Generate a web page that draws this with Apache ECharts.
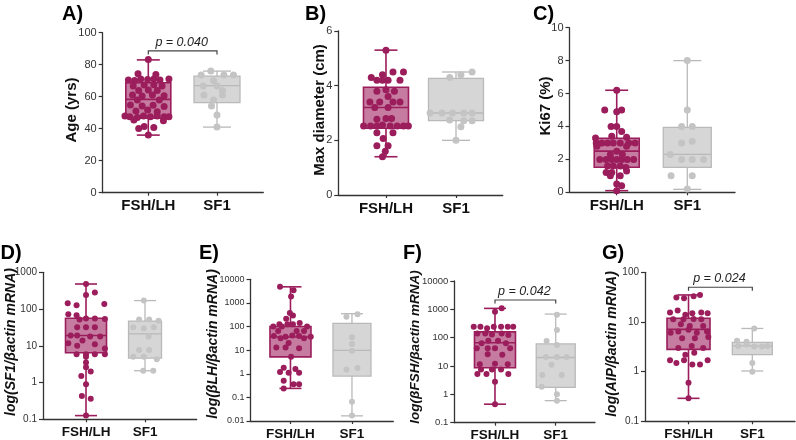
<!DOCTYPE html>
<html><head><meta charset="utf-8">
<script src="https://cdn.jsdelivr.net/npm/echarts@6/dist/echarts.min.js"></script>
<style>html,body{margin:0;padding:0;background:#fff}#c{width:796px;height:440px}</style>
</head><body><div id="c"></div>
<script>
// ---------- DATA ----------
const groups = ['FSH/LH', 'SF1'];
// box stats: [min, Q1, median, Q3, max]
const ageBoxFsh = [36, 46.5, 58.3, 68.7, 83];
const ageBoxSf1 = [41, 56.3, 66.9, 72.9, 76];
const diamBoxFsh = [1.4, 2.44, 3.2, 3.94, 5.3];
const diamBoxSf1 = [2.0, 2.72, 3.0, 4.27, 4.5];
const ki67BoxFsh = [0.1, 1.52, 2.5, 3.28, 6.2];
const ki67BoxSf1 = [0.18, 1.52, 2.3, 3.95, 8.0];
const sf1BoxFsh = [0.126, 6.5, 19, 56, 480];
const sf1BoxSf1 = [2.1, 4.6, 21, 47, 170];
const lhBoxFsh = [0.24, 5.2, 36, 100, 4800];
const lhBoxSf1 = [0.0165, 0.8, 9.8, 135, 350];
const fshBoxFsh = [0.45, 8.7, 66, 160, 1080];
const fshBoxSf1 = [0.6, 1.77, 20, 60, 680];
const aipBoxFsh = [0.29, 2.8, 7.1, 11.9, 35];
const aipBoxSf1 = [1.03, 2.2, 3.3, 3.9, 7.4];

// individual points: [horizontal jitter (category units), value]
const agePtsFsh = [[0,83.3],[-0.15,74.4],[0.11,73.8],[-0.29,70.4],[-0.2,70.2],[-0.11,71],[-0.01,70.8],[0.08,71],[0.17,70.4],[0.3,71],[-0.22,66.7],[-0.06,67.3],[0.08,67.5],[0.2,66.7],[-0.14,63.8],[0,64.2],[0.13,63.8],[-0.23,61],[-0.09,60.4],[0.06,61],[0.23,60.6],[-0.16,57.9],[0.16,57.9],[-0.26,54.8],[-0.09,54.2],[0.07,54.6],[0.23,53.8],[-0.18,51],[-0.01,51.7],[0.13,50.6],[-0.34,47.9],[-0.27,47.5],[-0.16,47],[-0.07,47.9],[0.03,47.5],[0.13,47.9],[0.23,47.5],[0.3,47.5],[-0.21,45.4],[0.22,45],[-0.06,41.3],[0.08,40.8],[-0.14,40.2],[0,36]];
const agePtsSf1 = [[-0.23,73.5],[-0.09,76],[0.1,73.5],[0.24,73.5],[-0.05,70],[-0.2,66.7],[0,66.7],[0.08,63.8],[-0.19,61],[0.08,61],[-0.05,57.9],[-0.08,54.2],[0,48.5],[0,41]];
const diamPtsFsh = [[0,5.3],[0.1,4.5],[0.25,4.5],[-0.05,4.4],[-0.21,4.3],[-0.13,4.2],[-0.05,4.2],[0.03,4.2],[0.2,4.2],[-0.13,3.8],[0,3.85],[0.12,3.8],[0.03,3.6],[-0.23,3.4],[-0.09,3.4],[0.1,3.4],[0.2,3.4],[-0.16,3.2],[0.03,3.2],[0,2.8],[0.08,2.8],[-0.13,2.77],[-0.32,2.52],[-0.22,2.52],[-0.13,2.52],[-0.05,2.56],[0.06,2.52],[0.16,2.52],[0.25,2.52],[0.32,2.52],[-0.13,2.28],[0.1,2.28],[-0.04,2.07],[-0.13,1.8],[0.03,1.8],[-0.01,1.6],[-0.05,1.4]];
const diamPtsSf1 = [[-0.09,4.3],[0.07,4.4],[0.23,4.5],[-0.37,3.0],[-0.2,3.0],[-0.05,3.0],[0.11,3.0],[0.23,3.0],[-0.09,2.74],[0.11,2.72],[0.23,2.72],[0.07,2.5],[0,2.0]];
const ki67PtsFsh = [[0,6.2],[-0.17,5.0],[0,4.9],[0.07,5.0],[-0.08,4.0],[0,4.0],[0.07,3.7],[-0.07,3.4],[0.14,3.35],[-0.3,3.3],[-0.29,3.0],[-0.21,3.0],[-0.13,3.0],[-0.05,3.0],[0.05,3.0],[0.17,3.0],[0.26,3.0],[-0.28,2.8],[0.14,2.8],[0,2.5],[-0.09,2.3],[0.08,2.3],[-0.24,2.0],[-0.15,2.0],[-0.07,2.0],[0,2.0],[0.07,2.0],[0.15,2.0],[0.24,2.0],[-0.13,1.6],[-0.05,1.6],[0.05,1.6],[0.13,1.5],[0.14,1.3],[-0.15,1.2],[-0.07,1.2],[-0.09,1.0],[0.05,1.0],[0,0.5],[0.07,0.4],[0,0.1]];
const ki67PtsSf1 = [[0,8.0],[0,5.0],[-0.08,4.0],[0.07,4.0],[-0.08,3.0],[0.07,3.1],[-0.24,2.3],[-0.08,2.0],[0.07,2.0],[0.23,2.0],[-0.23,1.0],[0.07,1.0],[0,0.2]];
const sf1PtsFsh = [[0,480],[0,242],[0.15,280],[-0.31,143],[-0.16,126],[0.31,137],[-0.3,72],[-0.16,68],[-0.11,52],[0,55],[0.15,55],[0.32,54],[-0.15,32],[0,32],[0.15,32],[-0.26,19],[-0.15,19],[0.07,18],[0.24,18],[-0.06,14],[-0.3,11.7],[-0.15,10],[0.15,11],[0.32,8.5],[-0.16,5.9],[0,5.9],[0.15,5.9],[0.32,5.9],[0,5.0],[0,3.5],[0,2.6],[0.08,2.0],[-0.08,1.5],[0,0.9],[-0.07,0.43],[0.08,0.36],[0,0.126]];
const sf1PtsSf1 = [[-0.02,170],[-0.1,52],[0.07,52],[0.23,48],[-0.2,32],[-0.02,30],[0.15,32],[0.06,18],[-0.1,7.7],[0.07,7.7],[-0.2,5],[-0.02,5],[0.2,4.3],[-0.03,2.1],[0.14,2.1]];
const lhPtsFsh = [[-0.17,4800],[0.05,3400],[0.01,1850],[-0.01,375],[0.04,290],[-0.07,215],[-0.18,125],[-0.05,125],[0.04,125],[0.15,140],[-0.28,100],[-0.14,100],[0.27,100],[-0.2,65],[0.1,65],[0.22,65],[-0.27,40],[-0.08,37],[0.03,42],[0.14,40],[0.33,37],[-0.16,32],[0.22,32],[-0.03,20],[-0.23,13],[-0.08,13],[0.14,12],[0.01,5.3],[-0.11,1.8],[0.08,1.6],[-0.03,1.1],[0.14,1.1],[-0.17,1.2],[-0.11,0.51],[0.05,0.36],[0.14,0.36],[-0.11,0.24]];
const lhPtsSf1 = [[0.09,330],[-0.09,260],[0,35],[0,18],[0,9.5],[-0.09,1.5],[0.09,1.75],[0,0.066],[0,0.017]];
const fshPtsFsh = [[0.11,1085],[0,830],[-0.35,245],[-0.24,245],[-0.13,215],[-0.02,245],[0.1,245],[0.21,245],[0.3,245],[-0.29,140],[-0.16,140],[-0.05,130],[0.11,140],[0.22,125],[-0.11,78],[0.05,78],[-0.22,63],[0.18,63],[-0.3,42],[-0.12,42],[0,42],[0.25,42],[-0.12,26],[0.12,25],[-0.25,11.5],[0,12],[0.21,11.5],[-0.23,7.6],[-0.05,7.6],[0.1,7.6],[-0.29,5.2],[-0.14,5.2],[0.22,5.2],[0,2.8],[0,0.45]];
const fshPtsSf1 = [[0.02,650],[0.02,186],[-0.15,76],[0.02,55],[-0.16,21],[0.02,21],[0.18,21],[-0.07,11],[-0.22,4.8],[0.1,4.8],[-0.23,1.86],[0.02,1.0],[0.02,0.6]];
const aipPtsFsh = [[-0.19,31],[-0.07,30],[0.08,33],[0.18,35],[-0.29,15.5],[-0.17,17],[-0.05,14],[0.06,15],[0.2,15.5],[0.3,15],[-0.24,11.3],[-0.08,11.3],[0.08,11.5],[0.2,11.3],[-0.12,9],[0.02,8.3],[0.23,8.3],[-0.28,6.1],[-0.16,6.4],[0,7],[0.13,6.1],[0.29,6.4],[-0.1,4.7],[0.1,4.7],[0.31,5],[0.05,3.3],[-0.16,3.0],[0.23,3.0],[-0.05,2.2],[0.09,2.4],[-0.29,1.7],[-0.19,1.5],[-0.07,1.7],[0.06,1.4],[0.18,1.4],[0.3,1.7],[0,0.6],[0,0.29]];
const aipPtsSf1 = [[0.03,7.4],[-0.24,4.2],[-0.09,4.0],[-0.22,3.3],[-0.09,3.5],[0.03,3.2],[0.15,3.2],[0.24,3.3],[0,1.5],[0,1.0]];

const pValues = ['p = 0.040', 'p = 0.042', 'p = 0.024'];

// ---------- LAYOUT / STYLE ----------
const FONT = '"Liberation Sans", Arial, Helvetica, sans-serif';
const MAG = '#9b1d5c', MAG_FILL = 'rgba(155,29,92,0.58)';
const GRY = '#c4c4c4', GRY_STROKE = '#b9b9b9', GRY_FILL = '#d6d6d6';
const AX = '#333';

const panels = [
  {title:'A)', tpos:[62,14], yName:'Age (yrs)', npos:[72,110], nItalic:false, nSize:15,
   grid:{left:102.7, top:32.7, width:160.6, height:160}, xr:[0.336,2.674],
   y:{type:'value', min:0, max:100, interval:20}, lab:11, cat:15, dot:7,
   box:[ageBoxFsh, ageBoxSf1], pts:[agePtsFsh, agePtsSf1], bw:[45,46], cap:[23,28],
   bracket:{y:88.6, text:pValues[0]}},
  {title:'B)', tpos:[305,14], yName:'Max diameter (cm)', npos:[320,110], nItalic:false, nSize:15,
   grid:{left:338.3, top:31, width:164.4, height:164}, xr:[0.319,2.667],
   y:{type:'value', min:0, max:6, interval:2}, lab:11, cat:15, dot:7,
   box:[diamBoxFsh, diamBoxSf1], pts:[diamPtsFsh, diamPtsSf1], bw:[45,55], cap:[23,28]},
  {title:'C)', tpos:[533,14], yName:'Ki67 (%)', npos:[546,106], nItalic:false, nSize:15,
   grid:{left:569.5, top:27.7, width:165.5, height:164.6}, xr:[0.331,2.676],
   y:{type:'value', min:0, max:10, interval:2}, lab:11, cat:15, dot:7,
   box:[ki67BoxFsh, ki67BoxSf1], pts:[ki67PtsFsh, ki67PtsSf1], bw:[45,48], cap:[23,28]},
  {title:'D)', tpos:[0.5,253.5], yName:'log(SF1/βactin mRNA)', npos:[11,342], nItalic:true, nSize:14,
   grid:{left:43, top:272.3, width:153.7, height:147}, xr:[0.271,2.876],
   y:{type:'log', min:0.1, max:1000, split:4}, lab:10, cat:13.5, dot:6,
   box:[sf1BoxFsh, sf1BoxSf1], pts:[sf1PtsFsh, sf1PtsSf1], bw:[41,33], cap:[22,22]},
  {title:'E)', tpos:[199,253.5], yName:'log(βLH/βactin mRNA)', npos:[213,344], nItalic:true, nSize:14,
   grid:{left:250.5, top:279.3, width:142.8, height:141.7}, xr:[0.35,2.672],
   y:{type:'log', min:0.01, max:10000, split:6}, lab:9, cat:13.5, dot:6,
   box:[lhBoxFsh, lhBoxSf1], pts:[lhPtsFsh, lhPtsSf1], bw:[41,38], cap:[22,22]},
  {title:'F)', tpos:[403,253.5], yName:'log(βFSH/βactin mRNA)', npos:[415,347], nItalic:true, nSize:13.5,
   grid:{left:454.3, top:281, width:140.7, height:141.7}, xr:[0.33,2.647],
   y:{type:'log', min:0.1, max:10000, split:5}, lab:9.5, cat:13.5, dot:6,
   box:[fshBoxFsh, fshBoxSf1], pts:[fshPtsFsh, fshPtsSf1], bw:[41,39], cap:[22,22],
   bracket:{y:2140, text:pValues[1]}},
  {title:'G)', tpos:[602,253.5], yName:'log(AIP/βactin mRNA)', npos:[612,344], nItalic:true, nSize:14,
   grid:{left:645, top:272.3, width:150, height:149}, xr:[0.318,2.669],
   y:{type:'log', min:0.1, max:100, split:3}, lab:10, cat:13.5, dot:6,
   box:[aipBoxFsh, aipBoxSf1], pts:[aipPtsFsh, aipPtsSf1], bw:[43,40], cap:[22,22],
   bracket:{y:50, text:pValues[2]}}
];

function boxRender(bw, cap, stroke, fill, lw) {
  return function (params, api) {
    const x = api.value(0);
    const pMin = api.coord([x, api.value(1)]);
    const pQ1 = api.coord([x, api.value(2)]);
    const pMed = api.coord([x, api.value(3)]);
    const pQ3 = api.coord([x, api.value(4)]);
    const pMax = api.coord([x, api.value(5)]);
    const cx = pMin[0], h = bw / 2, c = cap / 2;
    const ls = {stroke: stroke, lineWidth: lw, fill: null};
    return {type: 'group', children: [
      {type: 'rect', shape: {x: cx - h, y: pQ3[1], width: bw, height: pQ1[1] - pQ3[1]}, style: {fill: fill, stroke: stroke, lineWidth: lw}},
      {type: 'line', shape: {x1: cx - h, y1: pMed[1], x2: cx + h, y2: pMed[1]}, style: ls},
      {type: 'line', shape: {x1: cx, y1: pQ3[1], x2: cx, y2: pMax[1]}, style: ls},
      {type: 'line', shape: {x1: cx, y1: pQ1[1], x2: cx, y2: pMin[1]}, style: ls},
      {type: 'line', shape: {x1: cx - c, y1: pMax[1], x2: cx + c, y2: pMax[1]}, style: ls},
      {type: 'line', shape: {x1: cx - c, y1: pMin[1], x2: cx + c, y2: pMin[1]}, style: ls}
    ]};
  };
}
function bracketRender(text) {
  return function (params, api) {
    const y = api.value(2);
    const p1 = api.coord([api.value(0), y]);
    const p2 = api.coord([api.value(1), y]);
    const leg = 3.5;
    return {type: 'group', children: [
      {type: 'polyline', shape: {points: [[p1[0], p1[1] + leg], [p1[0], p1[1]], [p2[0], p2[1]], [p2[0], p2[1] + leg]]},
       style: {stroke: '#444', lineWidth: 1.2, fill: null}},
      {type: 'text', x: (p1[0] + p2[0]) / 2 - 1, y: p1[1] - 8.5,
       style: {text: text, font: 'italic 12.5px ' + FONT, fill: '#222', align: 'center', verticalAlign: 'middle', textAlign: 'center', textVerticalAlign: 'middle'}}
    ]};
  };
}
const fmtLog = v => String(+(+v).toPrecision(3));

const option = {animation: false, backgroundColor: '#fff', grid: [], xAxis: [], yAxis: [], series: [], graphic: []};

panels.forEach((p, i) => {
  option.grid.push(Object.assign({containLabel: false, outerBoundsMode: 'none'}, p.grid));
  option.xAxis.push({
    type: 'value', gridIndex: i, min: p.xr[0], max: p.xr[1],
    axisLine: {show: true, onZero: false, lineStyle: {color: AX, width: 1.3}},
    axisTick: {show: true, customValues: [1, 2], length: 3, lineStyle: {color: AX, width: 1.2}},
    axisLabel: {show: true, customValues: [1, 2], formatter: v => groups[Math.round(v) - 1] || '',
      margin: 6, fontFamily: FONT, fontWeight: 'bold', fontSize: p.cat, color: '#111'},
    splitLine: {show: false}
  });
  const ya = {
    type: p.y.type, gridIndex: i, min: p.y.min, max: p.y.max,
    axisLine: {show: true, onZero: false, lineStyle: {color: AX, width: 1.3}},
    axisTick: {show: true, length: 4, lineStyle: {color: AX, width: 1.2}},
    minorTick: {show: false},
    axisLabel: {margin: 6, fontFamily: FONT, fontSize: p.lab, color: '#333'},
    splitLine: {show: false}
  };
  if (p.y.type === 'value') { ya.interval = p.y.interval; }
  else { ya.logBase = 10; ya.splitNumber = p.y.split; ya.axisLabel.formatter = fmtLog; }
  option.yAxis.push(ya);

  const cols = [[MAG, MAG_FILL, 1.6], [GRY_STROKE, GRY_FILL, 1.3]];
  [0, 1].forEach(g => {
    option.series.push({
      type: 'custom', xAxisIndex: i, yAxisIndex: i, z: 2, clip: false, silent: true,
      renderItem: boxRender(p.bw[g], p.cap[g], cols[g][0], cols[g][1], cols[g][2]),
      encode: {x: 0, y: [1, 2, 3, 4, 5]},
      data: [[g + 1].concat(p.box[g])]
    });
  });
  [0, 1].forEach(g => {
    option.series.push({
      type: 'scatter', xAxisIndex: i, yAxisIndex: i, z: 3, silent: true,
      symbolSize: p.dot, itemStyle: {color: g === 0 ? MAG : GRY, opacity: 1},
      data: p.pts[g].map(d => [g + 1 + d[0], d[1]])
    });
  });
  if (p.bracket) {
    option.series.push({
      type: 'custom', xAxisIndex: i, yAxisIndex: i, z: 4, clip: false, silent: true,
      renderItem: bracketRender(p.bracket.text),
      encode: {x: [0, 1], y: 2},
      data: [[1, 2, p.bracket.y]]
    });
  }
  option.graphic.push({type: 'text', x: p.tpos[0], y: p.tpos[1],
    style: {text: p.title, font: 'bold 20px ' + FONT, fill: '#000', align: 'left', verticalAlign: 'middle', textAlign: 'left', textVerticalAlign: 'middle'}});
  option.graphic.push({type: 'text', x: p.npos[0], y: p.npos[1], rotation: Math.PI / 2,
    style: {text: p.yName, font: (p.nItalic ? 'italic ' : '') + 'bold ' + p.nSize + 'px ' + FONT, fill: '#111',
      align: 'center', verticalAlign: 'middle', textAlign: 'center', textVerticalAlign: 'middle'}});
});

const chart = echarts.init(document.getElementById('c'), null, {renderer: 'canvas'});
chart.setOption(option);
</script>
</body></html>
